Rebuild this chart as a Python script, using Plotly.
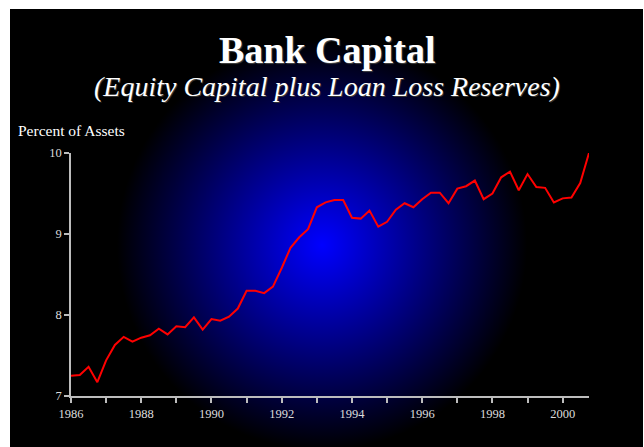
import base64
import plotly.graph_objects as go

# Quarterly bank capital ratio, 1986Q1 - 2000Q4 (percent of assets)
start_year = 1986
quarters_per_year = 4
capital_ratio = [
    7.25, 7.26, 7.36, 7.17, 7.44, 7.63, 7.73, 7.67,
    7.72, 7.75, 7.83, 7.76, 7.86, 7.85, 7.97, 7.82,
    7.95, 7.93, 7.98, 8.08, 8.30, 8.30, 8.27, 8.35,
    8.58, 8.83, 8.96, 9.06, 9.33, 9.39, 9.42, 9.42,
    9.20, 9.19, 9.29, 9.09, 9.15, 9.30, 9.38, 9.33,
    9.43, 9.51, 9.51, 9.38, 9.56, 9.59, 9.66, 9.43,
    9.50, 9.70, 9.77, 9.54, 9.74, 9.58, 9.57, 9.39,
    9.44, 9.45, 9.63, 10.0,
]
period = [start_year + i / quarters_per_year for i in range(len(capital_ratio))]

title_text = "Bank Capital"
subtitle_text = "(Equity Capital plus Loan Loss Reserves)"
y_title_text = "Percent of Assets"
x_tick_values = [1986, 1988, 1990, 1992, 1994, 1996, 1998, 2000]
y_tick_values = [7, 8, 9, 10]

W, H = 644, 447
M_L, M_R, M_T, M_B = 71, 55, 153, 51
PW, PH = W - M_L - M_R, H - M_T - M_B


def px_x(px):
    return (px - M_L) / PW


def px_y(py):
    return (H - M_B - py) / PH


# Slide backdrop: black panel with a blue radial glow, thin white frame top/left
svg = f"""<svg xmlns="http://www.w3.org/2000/svg" width="{W}" height="{H}" viewBox="0 0 {W} {H}">
<defs><radialGradient id="g" cx="322" cy="245" r="205" gradientUnits="userSpaceOnUse">
<stop offset="0" stop-color="#0000ff"/><stop offset="1" stop-color="#000000"/></radialGradient></defs>
<rect width="{W}" height="{H}" fill="#ffffff"/>
<rect x="10" y="9" width="{W - 11}" height="{H - 9}" fill="url(#g)"/>
</svg>"""
bg_src = "data:image/svg+xml;base64," + base64.b64encode(svg.encode()).decode()

serif = "Liberation Serif, Times New Roman, serif"
axis_col = "#bdbdbd"
label_col = "#dcdcdc"

fig = go.Figure()
fig.add_trace(go.Scatter(
    x=period, y=capital_ratio, mode="lines",
    line=dict(color="#ff0000", width=2),
    hoverinfo="skip", showlegend=False,
))

fig.update_layout(
    width=W, height=H,
    margin=dict(l=M_L, r=M_R, t=M_T, b=M_B, pad=0),
    paper_bgcolor="#ffffff",
    plot_bgcolor="rgba(0,0,0,0)",
    images=[dict(
        source=bg_src, xref="paper", yref="paper",
        x=px_x(0), y=px_y(0), sizex=W / PW, sizey=H / PH,
        xanchor="left", yanchor="top", sizing="stretch", layer="below",
    )],
    xaxis=dict(
        range=[1986, 2000.75], tickvals=x_tick_values, tickformat="d",
        showline=True, linecolor=axis_col, linewidth=1.5,
        ticks="outside", ticklen=5, tickwidth=1.5, tickcolor=axis_col,
        minor=dict(dtick=1, tick0=1986, ticks="outside", ticklen=5,
                   tickwidth=1.5, tickcolor=axis_col),
        showgrid=False, zeroline=False,
        tickfont=dict(family=serif, size=12.5, color=label_col),
    ),
    yaxis=dict(
        range=[7, 10], tickvals=y_tick_values,
        showline=True, linecolor=axis_col, linewidth=1.5,
        ticks="outside", ticklen=5, tickwidth=1.5, tickcolor=axis_col,
        showgrid=False, zeroline=False,
        tickfont=dict(family=serif, size=12.5, color=label_col),
    ),
    annotations=[
        dict(text=f"<b>{title_text}</b>", x=px_x(327), y=px_y(50),
             xref="paper", yref="paper", xanchor="center", yanchor="middle",
             showarrow=False,
             font=dict(family=serif, size=38, color="#ffffff",
                       shadow="1px 1px 1px #444444")),
        dict(text=f"<i>{subtitle_text}</i>", x=px_x(327), y=px_y(87),
             xref="paper", yref="paper", xanchor="center", yanchor="middle",
             showarrow=False,
             font=dict(family=serif, size=28, color="#ffffff",
                       shadow="1px 1px 0px #333333")),
        dict(text=y_title_text, x=px_x(16), y=px_y(130),
             xref="paper", yref="paper", xanchor="left", yanchor="middle",
             showarrow=False,
             font=dict(family=serif, size=15.5, color="#ffffff")),
    ],
)

fig.write_html("out.html")
